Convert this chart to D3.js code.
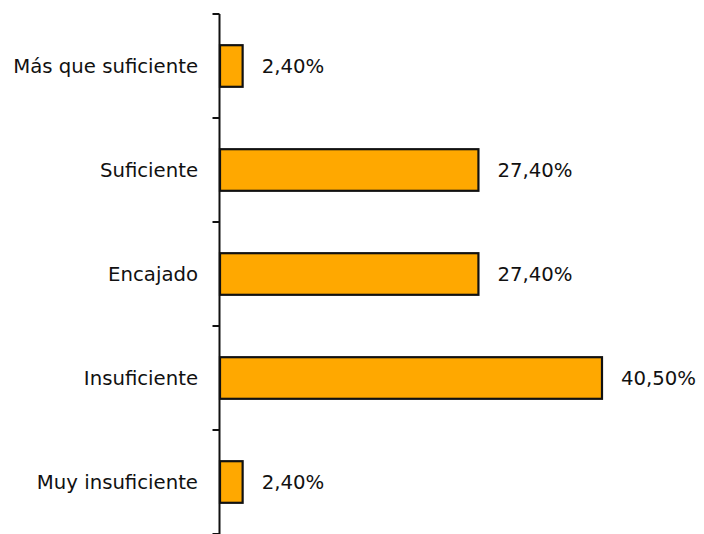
<!DOCTYPE html>
<html><head><meta charset="utf-8">
<script src="https://cdn.jsdelivr.net/npm/d3@7"></script>
<style>body{margin:0;background:#fff}svg{display:block}</style>
</head><body>
<script>
const categories = ["Más que suficiente","Suficiente","Encajado","Insuficiente","Muy insuficiente"];
const values = [2.4, 27.4, 27.4, 40.5, 2.4];
const valueLabels = ["2,40%","27,40%","27,40%","40,50%","2,40%"];

const W = 704, H = 534;
const svg = d3.select("body").append("svg").attr("width", W).attr("height", H);
const axisX = 219.5;
const x = d3.scaleLinear().domain([0, 45]).range([220, 220 + 45 * 9.432]);
const y = d3.scaleBand().domain(categories).range([14, 534]).paddingInner(0.6).paddingOuter(0.3);
const font = "'DejaVu Sans', Verdana, sans-serif";
const fs = "19.7px";

// bars
svg.selectAll("rect.bar").data(values).enter().append("rect")
  .attr("x", x(0))
  .attr("y", (d, i) => y(categories[i]))
  .attr("width", d => x(d) - x(0))
  .attr("height", y.bandwidth())
  .attr("fill", "#FFA800")
  .attr("stroke", "#111")
  .attr("stroke-width", 2.2);

// axis
const step = y.step();
const bounds = d3.range(categories.length + 1).map(i => 14 + i * step);
svg.append("line").attr("x1", axisX).attr("x2", axisX).attr("y1", 14).attr("y2", 534)
  .attr("stroke", "#111").attr("stroke-width", 2);
svg.selectAll("line.tick").data(bounds).enter().append("line")
  .attr("x1", axisX - 7).attr("x2", axisX).attr("y1", d => d).attr("y2", d => d)
  .attr("stroke", "#111").attr("stroke-width", 2);

// category labels
svg.selectAll("text.cat").data(categories).enter().append("text")
  .attr("x", 198).attr("y", d => y(d) + y.bandwidth() / 2)
  .attr("dy", "0.35em").attr("text-anchor", "end")
  .style("font-family", font).style("font-size", fs).attr("fill", "#111")
  .text(d => d);

// value labels
svg.selectAll("text.val").data(values).enter().append("text")
  .attr("x", d => x(d) + 19).attr("y", (d, i) => y(categories[i]) + y.bandwidth() / 2)
  .attr("dy", "0.35em")
  .style("font-family", font).style("font-size", fs).attr("fill", "#111")
  .text((d, i) => valueLabels[i]);
</script>
</body></html>
